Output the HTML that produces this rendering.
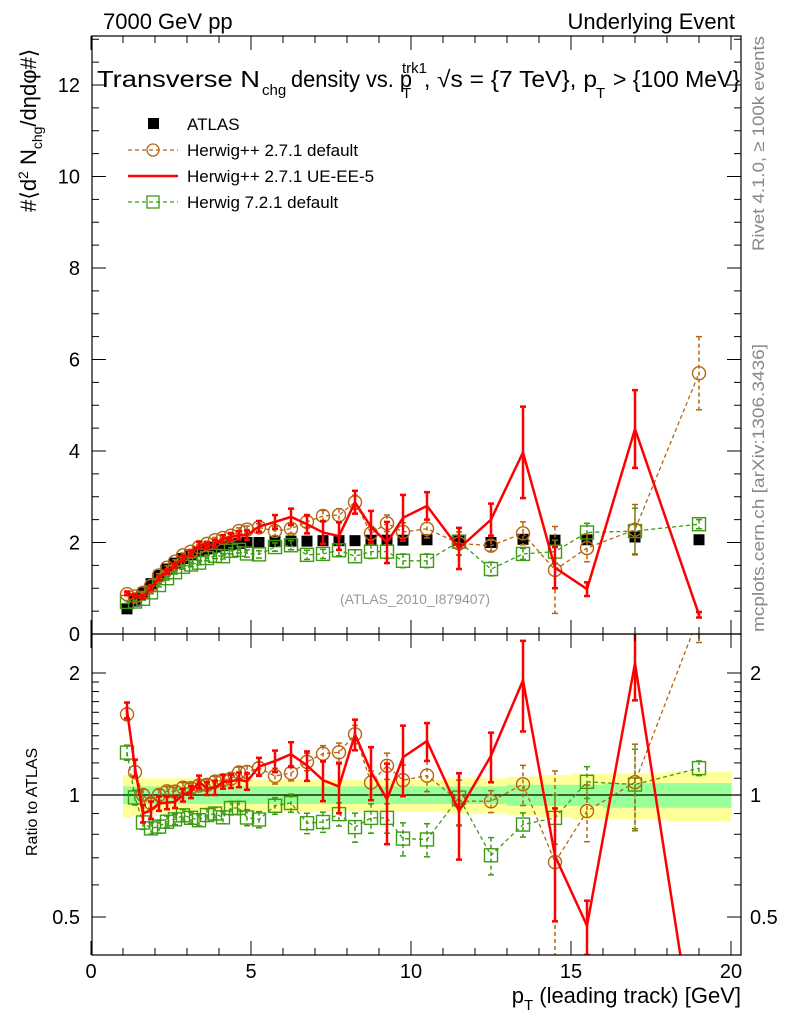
<!DOCTYPE html>
<html><head><meta charset="utf-8"><style>
html,body{margin:0;padding:0;background:#fff;overflow:hidden;width:786px;height:1024px;}
svg{display:block;font-family:"Liberation Sans",sans-serif;}
</style></head><body>
<svg id="chart" width="786" height="1024" viewBox="0 0 786 1024" xmlns="http://www.w3.org/2000/svg" overflow="hidden">
<text x="103" y="29" font-size="22">7000 GeV pp</text>
<text x="735" y="29" font-size="22" text-anchor="end">Underlying Event</text>
<text transform="translate(764,36) rotate(-90)" font-size="17" fill="#888" text-anchor="end" textLength="215" lengthAdjust="spacingAndGlyphs">Rivet 4.1.0, ≥ 100k events</text>
<text transform="translate(764,632) rotate(-90)" font-size="17" fill="#888" textLength="288" lengthAdjust="spacingAndGlyphs">mcplots.cern.ch [arXiv:1306.3436]</text>
<text transform="translate(36,212) rotate(-90)" font-size="22">#⟨d<tspan font-size="14" dy="-8">2</tspan><tspan dy="8"> N</tspan><tspan font-size="14" dy="6">chg</tspan><tspan dy="-6">/dηdφ#⟩</tspan></text>
<text transform="translate(37,856) rotate(-90)" font-size="16">Ratio to ATLAS</text>
<text x="741" y="1003" font-size="22" text-anchor="end">p<tspan font-size="15" dy="7">T</tspan><tspan dy="-7"> (leading track) [GeV]</tspan></text>
<g font-size="23">
 <text x="97" y="87" textLength="163" lengthAdjust="spacingAndGlyphs">Transverse N</text>
 <text x="262" y="95" font-size="15">chg</text>
 <text x="291" y="87" textLength="121" lengthAdjust="spacingAndGlyphs">density vs. p</text>
 <text x="402" y="73" font-size="15">trk1</text>
 <text x="402" y="98" font-size="15">T</text>
 <text x="424" y="87">,</text>
 <text x="437" y="87" textLength="160" lengthAdjust="spacingAndGlyphs">√s = {7 TeV}, p</text>
 <text x="596" y="98" font-size="15">T</text>
 <text x="613" y="87" textLength="127" lengthAdjust="spacingAndGlyphs">&gt; {100 MeV}</text>
</g>
<text x="415" y="604" font-size="14" fill="#999" text-anchor="middle">(ATLAS_2010_I879407)</text>
<g>
 <rect x="148" y="118" width="11" height="11" fill="#000"/>
 <text x="187" y="130" font-size="17">ATLAS</text>
 <line x1="128" y1="150" x2="178" y2="150" stroke="#b5650f" stroke-dasharray="4,3" stroke-width="1.2"/>
 <circle cx="153" cy="150" r="6" fill="none" stroke="#b5650f" stroke-width="1.3"/>
 <text x="187" y="156" font-size="17">Herwig++ 2.7.1 default</text>
 <line x1="128" y1="176" x2="178" y2="176" stroke="#f00" stroke-width="2.5"/>
 <text x="187" y="182" font-size="17">Herwig++ 2.7.1 UE-EE-5</text>
 <line x1="128" y1="202" x2="178" y2="202" stroke="#3f9a14" stroke-dasharray="4,3" stroke-width="1.2"/>
 <rect x="147" y="196" width="12" height="12" fill="none" stroke="#3f9a14" stroke-width="1.3"/>
 <text x="187" y="208" font-size="17">Herwig 7.2.1 default</text>
</g>
<g id="plot"></g>
</svg>
<script>
const xs = [1.125,1.375,1.625,1.875,2.125,2.375,2.625,2.875,3.125,3.375,3.625,3.875,4.125,4.375,4.625,4.875,5.25,5.75,6.25,6.75,7.25,7.75,8.25,8.75,9.25,9.75,10.5,11.5,12.5,13.5,14.5,15.5,17,19];
const atlas = [0.55,0.72,0.9,1.1,1.28,1.42,1.55,1.65,1.73,1.8,1.86,1.9,1.93,1.96,1.98,2.0,2.0,2.02,2.03,2.03,2.04,2.04,2.04,2.05,2.05,2.05,2.06,2.05,2.0,2.07,2.05,2.06,2.12,2.06];
const atlasBandIn = [0.05,0.05,0.05,0.05,0.05,0.05,0.05,0.05,0.05,0.05,0.05,0.05,0.05,0.05,0.05,0.05,0.05,0.05,0.05,0.05,0.05,0.05,0.05,0.05,0.05,0.05,0.05,0.05,0.05,0.06,0.06,0.06,0.07,0.07];
const atlasBandOut = [0.12,0.11,0.1,0.1,0.1,0.1,0.1,0.1,0.1,0.09,0.09,0.09,0.09,0.09,0.09,0.09,0.09,0.09,0.09,0.09,0.09,0.09,0.09,0.09,0.09,0.09,0.09,0.1,0.1,0.11,0.12,0.13,0.13,0.14];
const hpp = [0.87,0.82,0.9,1.05,1.28,1.45,1.58,1.72,1.8,1.9,1.97,2.05,2.1,2.15,2.25,2.28,2.33,2.25,2.3,2.45,2.58,2.6,2.88,2.2,2.42,2.23,2.3,1.98,1.93,2.2,1.4,1.88,2.28,5.7];
const hppErr = [0.03,0.03,0.03,0.03,0.04,0.04,0.04,0.05,0.05,0.05,0.06,0.06,0.06,0.07,0.07,0.08,0.08,0.1,0.1,0.12,0.12,0.14,0.15,0.15,0.18,0.2,0.2,0.25,0.12,0.25,0.95,0.3,0.55,0.8];
const ueee5 = [0.89,0.84,0.81,1.01,1.22,1.36,1.49,1.65,1.76,1.94,1.93,1.98,2.08,2.12,2.16,2.16,2.35,2.45,2.56,2.4,2.22,2.14,2.88,2.34,2.0,2.54,2.8,1.87,2.5,3.97,1.45,0.98,4.48,0.42];
const ueee5Err = [0.04,0.04,0.04,0.05,0.05,0.05,0.05,0.06,0.06,0.07,0.07,0.08,0.08,0.08,0.09,0.1,0.12,0.15,0.18,0.2,0.25,0.3,0.25,0.35,0.45,0.5,0.3,0.45,0.35,1.0,0.45,0.15,0.85,0.06];
const h7 = [0.7,0.71,0.77,0.91,1.07,1.22,1.35,1.47,1.52,1.56,1.66,1.71,1.7,1.82,1.84,1.76,1.74,1.9,1.94,1.73,1.75,1.83,1.7,1.8,1.8,1.6,1.6,2.02,1.42,1.75,1.8,2.22,2.25,2.4];
const h7Err = [0.03,0.03,0.03,0.03,0.04,0.04,0.04,0.05,0.05,0.05,0.06,0.06,0.06,0.07,0.07,0.08,0.08,0.09,0.1,0.1,0.1,0.12,0.14,0.15,0.15,0.15,0.15,0.3,0.15,0.12,0.25,0.2,0.5,0.1];
const binEdges = [1,1.25,1.5,1.75,2,2.25,2.5,2.75,3,3.25,3.5,3.75,4,4.25,4.5,4.75,5,5.5,6,6.5,7,7.5,8,8.5,9,9.5,10,11,12,13,14,15,16,18,20];
const mainYTicks = [0,2,4,6,8,10,12];
const ratioTicks = [0.5,1,2];
const xTicks = [0,5,10,15,20];

const L=92,R=741,MT=36,MB=634,RT=634,RB=955;
const X = v => 91 + v*32;
const Y = v => 634 - v*45.75;
const RY = r => 795 - Math.log2(r)*122;
const NS="http://www.w3.org/2000/svg";
const g=document.getElementById('plot');
function mk(t,a,p){const e=document.createElementNS(NS,t);for(const k in a)e.setAttribute(k,a[k]);(p||g).appendChild(e);return e;}

for(let i=0;i<xs.length;i++){
  const x0=X(binEdges[i]),x1=X(binEdges[i+1]);
  const y=mk('rect',{x:x0,y:RY(1+atlasBandOut[i]),width:x1-x0+0.5,height:RY(1-atlasBandOut[i])-RY(1+atlasBandOut[i]),fill:'#ffff99'});
  
  
  const z=mk('rect',{x:x0,y:RY(1+atlasBandIn[i]),width:x1-x0+0.5,height:RY(1-atlasBandIn[i])-RY(1+atlasBandIn[i]),fill:'#99ff99'});
  
  
}
mk('line',{x1:L,x2:R,y1:RY(1),y2:RY(1),stroke:'#000','stroke-width':1.2});

const defs=mk('defs',{});
const c1=mk('clipPath',{id:'cm'},defs);mk('rect',{x:L,y:MT,width:R-L,height:MB-MT},c1);
const c2=mk('clipPath',{id:'cr'},defs);mk('rect',{x:L,y:RT,width:R-L,height:RB-RT},c2);
const gm=mk('g',{'clip-path':'url(#cm)'});


const gr=mk('g',{'clip-path':'url(#cr)'});



function series(vals,errs,color,dash,width,marker,name){
  for(const [grp,ratio] of [[gm,false],[gr,true]]){
    const fy = ratio ? (i,v)=>RY(v/atlas[i]) : (i,v)=>Y(v);
    const pts = vals.map((v,i)=>X(xs[i])+','+fy(i,v)).join(' ');
    const pl=mk('polyline',{points:pts,fill:'none',stroke:color,'stroke-width':width,'stroke-dasharray':dash||'none'},grp);
    
    
    vals.forEach((v,i)=>{
      const x=X(xs[i]);
      const yt=fy(i,v+errs[i]), yb=fy(i,Math.max(v-errs[i],0.01));
      const eb=mk('line',{x1:x,x2:x,y1:yt,y2:yb,stroke:color,'stroke-width':marker?1.5:2.5,'stroke-dasharray':dash||'none'},grp);
      
      
      mk('line',{x1:x-3,x2:x+3,y1:yt,y2:yt,stroke:color,'stroke-width':marker?1.5:2.5},grp);
      mk('line',{x1:x-3,x2:x+3,y1:yb,y2:yb,stroke:color,'stroke-width':marker?1.5:2.5},grp);
      const y=fy(i,v);
      let m=null;
      if(marker==='circle') m=mk('circle',{cx:x,cy:y,r:6.5,fill:'none',stroke:color,'stroke-width':1.4},grp);
      if(marker==='square') m=mk('rect',{x:x-6.5,y:y-6.5,width:13,height:13,fill:'none',stroke:color,'stroke-width':1.4},grp);
      if(m){
        
        
      }
    });
  }
}
atlas.forEach((v,i)=>{
  const r=mk('rect',{x:X(xs[i])-5.5,y:Y(v)-5.5,width:11,height:11,fill:'#000'},gm);
  
  
});
series(h7,h7Err,'#3f9a14','4,3',1.3,'square','herwig7');
series(hpp,hppErr,'#b5650f','4,3',1.3,'circle','herwigpp-default');
series(ueee5,ueee5Err,'#ff0000',null,2.5,null,'herwigpp-ueee5');

const f1=mk('rect',{x:L,y:MT,width:R-L,height:MB-MT,fill:'none',stroke:'#000','stroke-width':1.2});


const f2=mk('rect',{x:L,y:RT,width:R-L,height:RB-RT,fill:'none',stroke:'#000','stroke-width':1.2});



for(let v=0;v<=13;v+=0.5){
  const maj = v%2===0, len = maj?14:7;
  mk('line',{x1:L,x2:L+len,y1:Y(v),y2:Y(v),stroke:'#000'});
  mk('line',{x1:R,x2:R-len,y1:Y(v),y2:Y(v),stroke:'#000'});
}
mainYTicks.forEach(v=>{
  const t=mk('text',{x:80,y:Y(v)+7,'font-size':20,'text-anchor':'end'});
  t.textContent=v;
  
  
});
for(let v=0;v<=20;v++){
  const maj=v%5===0, len=maj?14:7;
  for(const [yb,yt] of [[MB,MT],[RB,RT]]){
    mk('line',{x1:X(v),x2:X(v),y1:yb,y2:yb-len,stroke:'#000'});
    mk('line',{x1:X(v),x2:X(v),y1:yt,y2:yt+len,stroke:'#000'});
  }
}
xTicks.forEach(v=>{
  const t=mk('text',{x:X(v),y:978,'font-size':20,'text-anchor':'middle'});
  t.textContent=v;
  
  
});
const rmin=[0.4,0.5,0.6,0.7,0.8,0.9,1,1.1,1.2,1.3,1.4,1.5,1.6,1.7,1.8,1.9,2];
rmin.forEach(r=>{
  const maj=ratioTicks.includes(r), len=maj?14:7, y=RY(r);
  if(y<RT||y>RB) return;
  mk('line',{x1:L,x2:L+len,y1:y,y2:y,stroke:'#000'});
  mk('line',{x1:R,x2:R-len,y1:y,y2:y,stroke:'#000'});
});
ratioTicks.forEach(r=>{
  const t=mk('text',{x:80,y:RY(r)+7,'font-size':20,'text-anchor':'end'});
  t.textContent=r;
  
  
  const t2=mk('text',{x:750,y:RY(r)+7,'font-size':20,'text-anchor':'start'});
  t2.textContent=r;
  
  
});
</script>
</body></html>
